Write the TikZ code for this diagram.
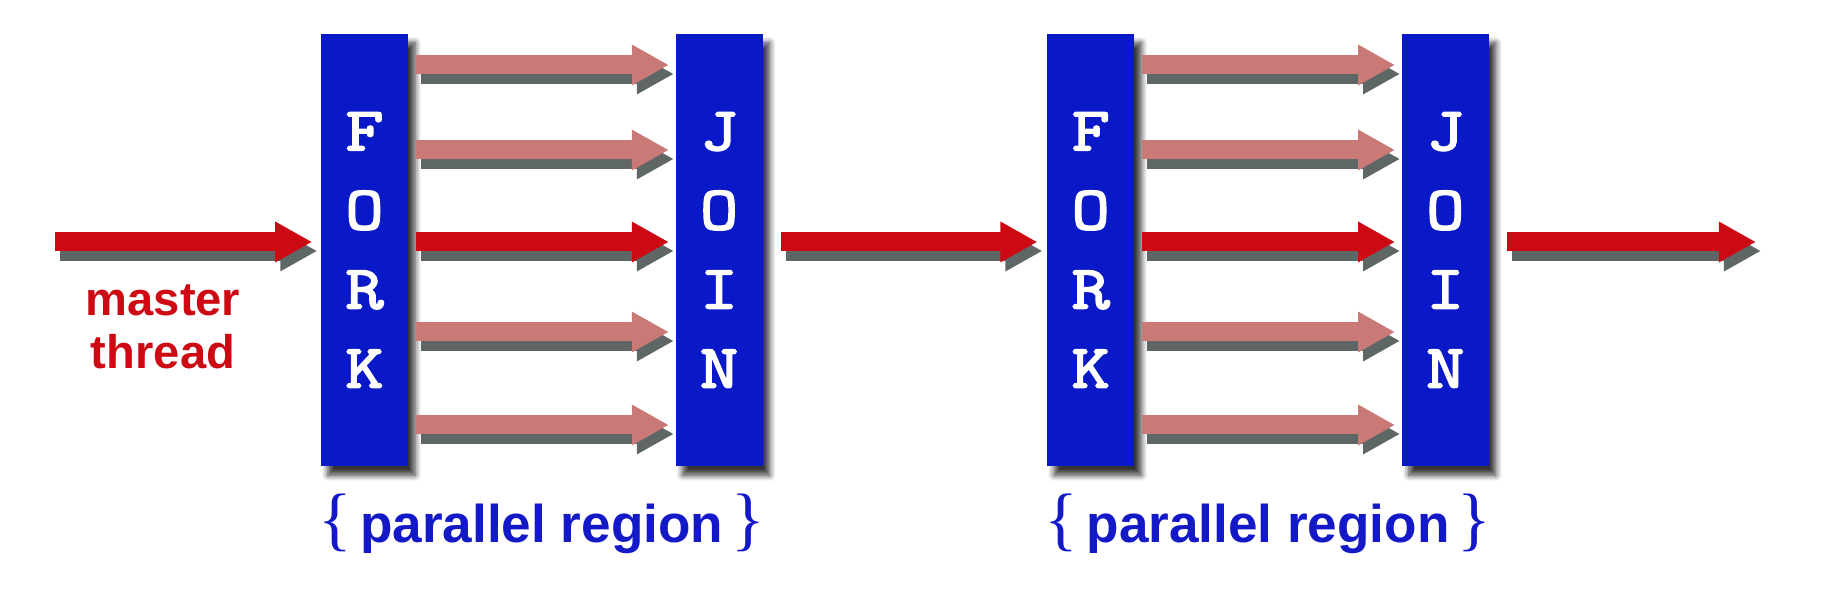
\documentclass[tikz,border=0pt]{standalone}
\usepackage{fontspec}
\setsansfont{Liberation Sans}
\newfontfamily\bracefont{Liberation Serif}
\newfontfamily\barfont[FakeBold=3, FakeStretch=1.2]{Latin Modern Mono}
\usepackage{tikz}
\usetikzlibrary{arrows.meta,positioning,calc,shadows.blur}
\definecolor{barblue}{RGB}{10,25,200}
\definecolor{thrred}{RGB}{205,10,20}
\definecolor{subpink}{RGB}{201,122,118}
\definecolor{lblblue}{RGB}{20,25,200}
\definecolor{shdgray}{RGB}{95,102,102}
\newcommand{\brc}[1]{{\bracefont\mdseries\fontsize{19.9}{20}\selectfont #1}}

\begin{document}
\begin{tikzpicture}[
    x=0.01cm, y=0.01cm,
    node distance=2.66cm,
    bar/.style={fill=barblue, minimum width=0.87cm, minimum height=4.32cm, inner sep=0pt,
                text=white, align=center, font=\barfont\fontsize{17.5}{22.5}\selectfont,
                blur shadow={shadow xshift=0.07cm, shadow yshift=-0.09cm,
                             shadow blur steps=6, shadow opacity=80}},
    shd/.style={preaction={draw=shdgray, line width=0.21cm,
                           transform canvas={shift={(0.05cm,-0.09cm)}}}},
    thr/.style={shd, draw=thrred, line width=0.19cm, -{Triangle[length=0.37cm, width=0.38cm]}},
    sub/.style={thr, draw=subpink},
    lbl/.style={font=\sffamily\bfseries\fontsize{15.1}{18}\selectfont, text=lblblue},
    mlbl/.style={font=\sffamily\bfseries\fontsize{13.4}{15.1}\selectfont, text=thrred, align=center},
  ]
  \useasboundingbox (0,0) rectangle (1832,592);

  % fork / join bars
  \node[bar] (fork1) at (364.5,342) {F\\O\\R\\K};
  \node[bar, right=of fork1] (join1) {J\\O\\I\\N};
  \node[bar, right=2.83cm of join1] (fork2) {F\\O\\R\\K};
  \node[bar, right=of fork2] (join2) {J\\O\\I\\N};

  % master thread
  \coordinate (mstart) at (55,350);
  \coordinate (mend) at (1756,350);
  \draw[thr, shorten >=0.08cm] (mstart) -- (mstart -| fork1.west);
  \node[mlbl] (master) at (163,265) {master\\thread};

  % team threads
  \foreach \dy/\sty in {185/sub, 100/sub, 8/thr, -82/sub, -175/sub} {
    \draw[\sty] ([shift={(7,\dy)}]fork1.east) -- ([shift={(-6,\dy)}]join1.west);
    \draw[\sty] ([shift={(7,\dy)}]fork2.east) -- ([shift={(-6,\dy)}]join2.west);
  }
  \draw[thr] ([shift={(18,8)}]join1.east) -- ([shift={(-9,8)}]fork2.west);
  \draw[thr] ([shift={(17,8)}]join2.east) -- (mend);

  % region labels
  \node[lbl, anchor=base] (reg1) at ($(fork1.south)!.5!(join1.south)+(0,-76)$)
    {\brc{\{}\kern0.08cm parallel region\kern0.08cm\brc{\}}};
  \node[lbl, anchor=base] (reg2) at ($(fork2.south)!.5!(join2.south)+(0,-76)$)
    {\brc{\{}\kern0.08cm parallel region\kern0.08cm\brc{\}}};
\end{tikzpicture}
\end{document}
